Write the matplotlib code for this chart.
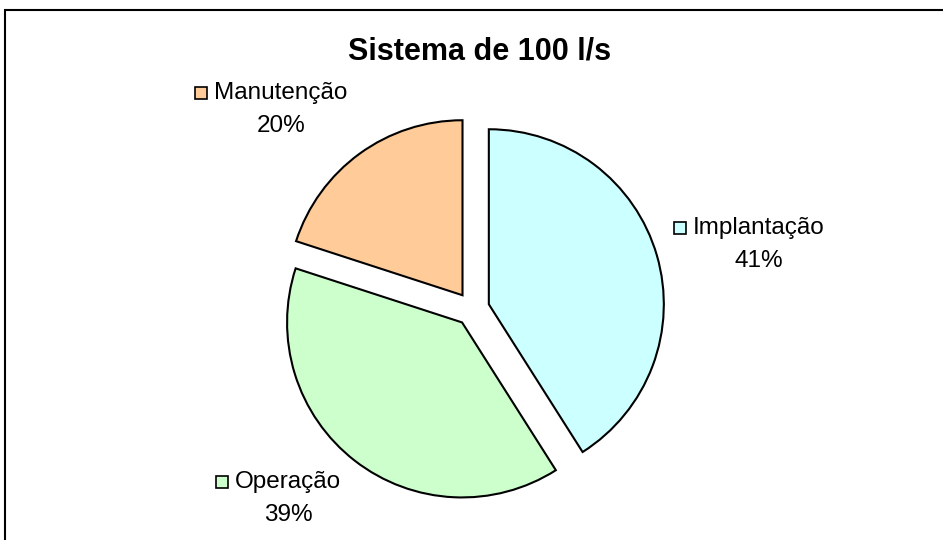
import matplotlib
matplotlib.use('Agg')
import matplotlib.pyplot as plt
from matplotlib.patches import Rectangle

plt.rcParams['font.family'] = ['Liberation Sans', 'DejaVu Sans']

labels = ['Implantação', 'Operação', 'Manutenção']
values = [41, 39, 20]
colors = ['#CCFFFF', '#CCFFCC', '#FFCC99']
title = 'Sistema de 100 l/s'

# label anchor (pixel coords, y up) for the name line; percent goes below
label_pos = [(759, 312), (288, 58), (281, 447)]

W, H = 943, 540
fig = plt.figure(figsize=(W / 100, H / 100), dpi=100)
ax = fig.add_axes([0, 0, 1, 1])
ax.set_xlim(0, W)
ax.set_ylim(0, H)
ax.axis('off')

wedges, _ = ax.pie(values, colors=colors, startangle=90, counterclock=False,
                   center=(472.5, 231), radius=175, explode=[17] * len(values),
                   wedgeprops=dict(edgecolor='black', linewidth=1.5),
                   frame=True)
ax.set_xlim(0, W)
ax.set_ylim(0, H)
ax.set_aspect('equal')
ax.axis('off')

fig.canvas.draw()
renderer = fig.canvas.get_renderer()
for lab, val, col, (x, y) in zip(labels, values, colors, label_pos):
    t = ax.text(x, y, lab, ha='center', va='center', fontsize=17.5)
    ax.text(x, y - 33, f'{val}%', ha='center', va='center', fontsize=17.5)
    bb = t.get_window_extent(renderer)
    ax.plot([bb.x0 - 13], [y], marker='s', markersize=9, markerfacecolor=col,
            markeredgecolor='black', markeredgewidth=1.2, linestyle='none')

ax.text(480, 488, title, ha='center', va='center', fontsize=22, fontweight='bold')

fig.patches.append(Rectangle((5 / W, -0.02), 1.05, 1 - 10 / H + 0.02,
                             transform=fig.transFigure, fill=False,
                             edgecolor='black', linewidth=1.5))

fig.savefig('out.png', dpi=100)
